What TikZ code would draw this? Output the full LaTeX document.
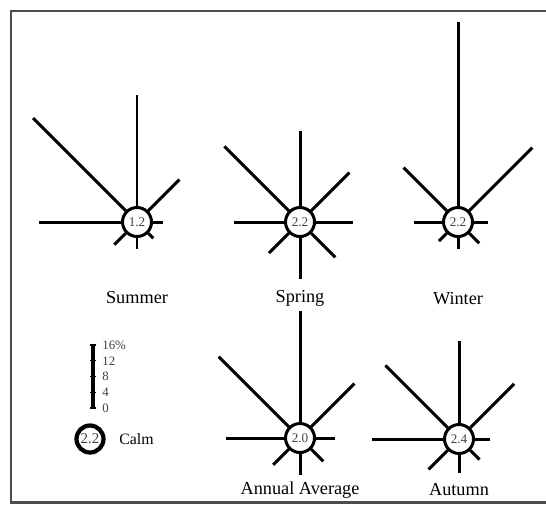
\documentclass[tikz,border=0pt]{standalone}
\usepackage{fontspec}
\setmainfont{Liberation Serif}

\begin{document}
\begin{tikzpicture}[%
      x=0.02cm, y=0.02cm,
      calm/.style={circle, draw, line width=1.7pt, minimum size=0.58cm, inner sep=0pt,
        font=\fontsize{7.5}{8}\selectfont, text=black!75},
      spoke/.style={line width=1.7pt},
      season/.style={font=\fontsize{10.4}{12}\selectfont},
      scalelabel/.style={anchor=west, inner sep=0pt, font=\fontsize{7.3}{8}\selectfont, text=black!75},
      ]
      \useasboundingbox (0,0) rectangle (546,505);
      \draw [color=black!70, line width=1.7pt] (552,3) -- (11,3) -- (11,494) -- (552,494);

      % Summer
      \node [calm] (summer) at (137,283) {1.2};
      \foreach \a/\l in {0/26,45/60,90/127,135/147,180/98,225/32,270/27,315/23}
        {
        \path (summer) ++(\a:\l) coordinate (summer-\a);
        \draw [spoke] (summer.\a) -- (summer-\a);
        }
      \node [season] (summerlabel) at (137,207) {Summer};

      % Spring
      \node [calm] (spring) at (300,283) {2.2};
      \foreach \a/\l in {0/53,45/70,90/91,135/107,180/66,225/44,270/57,315/50}
        {
        \path (spring) ++(\a:\l) coordinate (spring-\a);
        \draw [spoke] (spring.\a) -- (spring-\a);
        }
      \node [season] (springlabel) at (300,207) {Spring};

      % Winter
      \node [calm] (winter) at (458,283) {2.2};
      \foreach \a/\l in {0/30,45/105,90/200,135/77,180/44,225/27,270/27,315/30}
        {
        \path (winter) ++(\a:\l) coordinate (winter-\a);
        \draw [spoke] (winter.\a) -- (winter-\a);
        }
      \node [season] (winterlabel) at (458,206) {Winter};

      % Annual average
      \node [calm] (annual) at (300,67) {2.0};
      \foreach \a/\l in {0/35,45/77,90/127,135/115,180/74,225/38,270/37,315/33}
        {
        \path (annual) ++(\a:\l) coordinate (annual-\a);
        \draw [spoke] (annual.\a) -- (annual-\a);
        }
      \node [season] (annuallabel) at (300,15) {Annual Average};

      % Autumn
      \node [calm] (autumn) at (459,66) {2.4};
      \foreach \a/\l in {0/31,45/78,90/98,135/104,180/87,225/43,270/34,315/29}
        {
        \path (autumn) ++(\a:\l) coordinate (autumn-\a);
        \draw [spoke] (autumn.\a) -- (autumn-\a);
        }
      \node [season] (autumnlabel) at (459,15) {Autumn};

      % scale
      \draw [line width=2.2pt] (93,97) -- (93,160);
      \foreach \y/\t in {97/0,112.75/4,128.5/8,144.25/12,160/16\%}
        {
        \draw [line width=0.8pt] (90,\y) -- (96,\y);
        \node [scalelabel] at (102,\y) {\t};
        }

      % legend
      \node [calm, line width=2.4pt, minimum size=0.54cm, font=\fontsize{8.5}{10}\selectfont]
        (legend) at (90,66) {2.2};
      \node [season, anchor=west, inner sep=0pt, font=\fontsize{9}{10}\selectfont] (legendlabel)
        at (119,66) {Calm};
\end{tikzpicture}
\end{document}
